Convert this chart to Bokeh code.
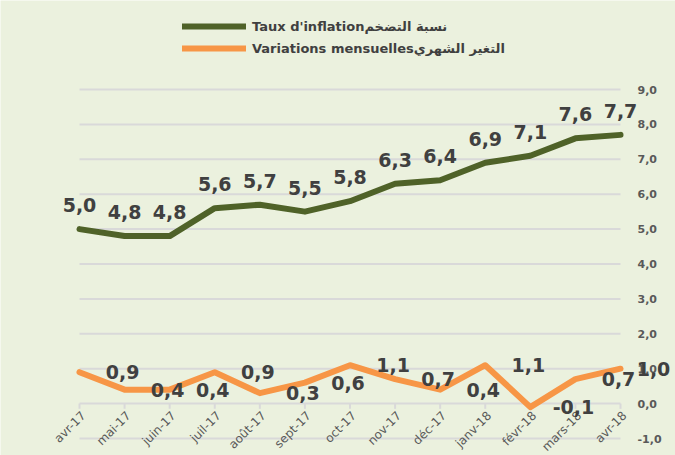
from math import pi
from bokeh.plotting import figure
from bokeh.models import (ColumnDataSource, Legend, LegendItem, Range1d)
from bokeh.core.properties import value
from bokeh.embed import file_html
from bokeh.resources import INLINE

months = ["avr-17", "mai-17", "juin-17", "juil-17", "août-17", "sept-17", "oct-17",
          "nov-17", "déc-17", "janv-18", "févr-18", "mars-18", "avr-18"]
inflation = [5.0, 4.8, 4.8, 5.6, 5.7, 5.5, 5.8, 6.3, 6.4, 6.9, 7.1, 7.6, 7.7]
monthly = [0.9, 0.4, 0.4, 0.9, 0.3, 0.6, 1.1, 0.7, 0.4, 1.1, -0.1, 0.7, 1.0]
y_ticks = list(range(-1, 10))
legend_labels = ["Taux d'inflationنسبة التضخم", "Variations mensuellesالتغير الشهري"]

BG = "#EBF1DE"
GREEN = "#4F6228"
ORANGE = "#F79646"
TXT = "#404040"
AXT = "#595959"
GRID = "#D9D9D9"
FONT = "DejaVu Sans"

# layout of the plotting area inside the 675x455 canvas (pixels)
W, H = 675, 455
PL, PR, PT, PB = 79, 620, 89, 438
EDGE_PAD = 20  # keep data labels this far from the right edge (pixels)


def fmt(v):
    return f"{v:.1f}".replace(".", ",")


n = len(months)
xmax = n - 1
ymin, ymax = y_ticks[0], y_ticks[-1]
ppx = (PR - PL) / xmax
ppy = (PB - PT) / (ymax - ymin)
x_range = Range1d(0 - PL / ppx, xmax + (W - PR) / ppx)
y_range = Range1d(ymin - (H - PB) / ppy, ymax + PT / ppy)
x_lbl_limit = xmax + (W - PR - EDGE_PAD) / ppx

idx = list(range(n))
src = ColumnDataSource(dict(
    x=idx,
    x_next=[min(i + 1, x_lbl_limit) for i in idx],
    zero=[0] * n,
    tick_end=[-0.15] * n,
    month=months,
    inflation=inflation,
    monthly=monthly,
    inf_lbl=[fmt(v) for v in inflation],
    mon_lbl=[fmt(v) for v in monthly],
))
tick_src = ColumnDataSource(dict(
    x0=[0] * len(y_ticks),
    x=[xmax] * len(y_ticks),
    y=y_ticks,
    t=[fmt(v) for v in y_ticks],
))

p = figure(width=W, height=H, x_range=x_range, y_range=y_range,
           y_axis_location=None, x_axis_location=None, toolbar_location=None,
           output_backend="svg", min_border=0)
p.background_fill_color = BG
p.border_fill_color = BG
p.outline_line_color = None
p.xgrid.visible = False
p.ygrid.visible = False

# gridlines limited to the category span
p.segment(x0="x0", y0="y", x1="x", y1="y", source=tick_src, line_color=GRID, line_width=2)
# category tick marks on the zero line
p.segment(x0="x", y0="zero", x1="x", y1="tick_end", source=src, line_color=GRID, line_width=2)

r_inf = p.line("x", "inflation", source=src, line_color=GREEN, line_width=6,
               line_cap="round", line_join="round")
r_mon = p.line("x", "monthly", source=src, line_color=ORANGE, line_width=6,
               line_cap="round", line_join="round")

# right axis tick labels
p.text(x="x", y="y", text="t", source=tick_src, x_offset=17,
       text_align="left", text_baseline="middle", text_font=value(FONT),
       text_font_style="bold", text_font_size="11px", text_color=AXT)
# category labels
p.text(x="x", y="zero", text="month", source=src, x_offset=4, y_offset=10,
       angle=pi / 4, text_align="right", text_baseline="middle",
       text_font=value(FONT), text_font_size="12px", text_color=AXT)
# data labels
p.text(x="x", y="inflation", text="inf_lbl", source=src, y_offset=-24,
       text_align="center", text_baseline="middle", text_font=value(FONT),
       text_font_style="bold", text_font_size="19px", text_color=TXT)
p.text(x="x_next", y="monthly", text="mon_lbl", source=src, x_offset=-2,
       text_align="center", text_baseline="middle", text_font=value(FONT),
       text_font_style="bold", text_font_size="19px", text_color=TXT)

legend = Legend(items=[LegendItem(label=legend_labels[0], renderers=[r_inf]),
                       LegendItem(label=legend_labels[1], renderers=[r_mon])],
                location=(182, H - 58), orientation="vertical",
                glyph_width=64, glyph_height=20, label_height=20, spacing=2,
                padding=0, margin=0, label_standoff=6,
                border_line_color=None, background_fill_alpha=0,
                label_text_font=FONT, label_text_font_style="bold",
                label_text_font_size="13px", label_text_color=TXT)
p.add_layout(legend)

open("out.html", "w").write(file_html(p, INLINE))
